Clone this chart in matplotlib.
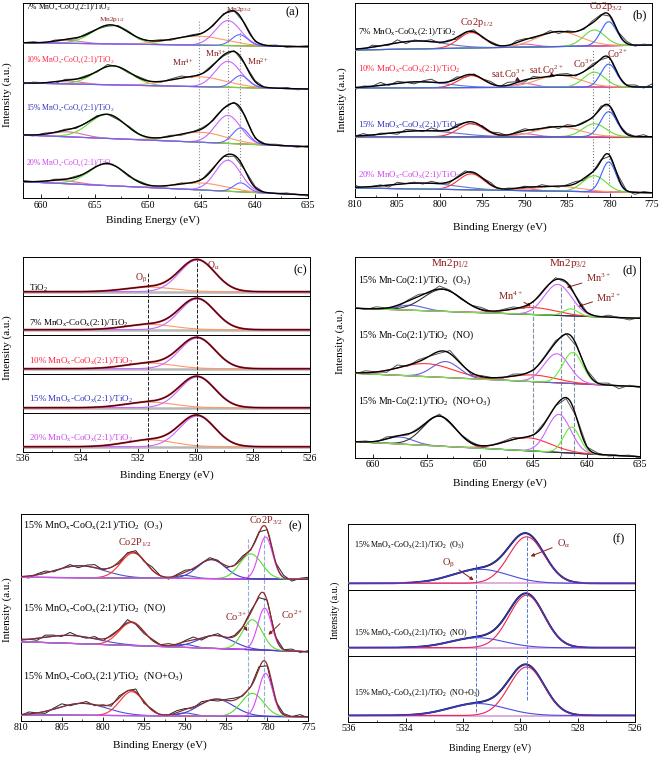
import numpy as np
import matplotlib
matplotlib.use('Agg')
import matplotlib.pyplot as plt
import matplotlib.ticker as ticker

plt.rcParams['font.family'] = ['Liberation Serif', 'DejaVu Serif']
plt.rcParams['mathtext.fontset'] = 'custom'
plt.rcParams['mathtext.rm'] = 'Liberation Serif'
plt.rcParams['mathtext.it'] = 'Liberation Serif:italic'
plt.rcParams['mathtext.default'] = 'regular'

W, H = 661, 759
LABEL_RED = '#8b1c1c'
MNCO = 'MnO$_x$-CoO$_x$(2:1)/TiO$_2$'

# ---------------- (a) Mn 2p, loading series ----------------
# components: satellite, Mn2p1/2, Mn4+, Mn3+, Mn2+   (heights in px above background)
A_XLIM = (661.7, 635)
A_LABELS = ['7% ' + MNCO, '10% ' + MNCO, '15% ' + MNCO, '20% ' + MNCO]
A_BASE = [(155.3, 151.3), (115, 109), (63, 51.3), (16.3, 3)]
A_CENTRES = [[657.5, 653.5, 645.3, 642.5, 641.4],
             [657.5, 653.3, 645.3, 642.5, 641.3],
             [657.5, 653.8, 645.0, 642.5, 641.3],
             [658.0, 653.8, 645.0, 642.5, 641.3]]
A_HEIGHTS = [[3, 19, 9, 25, 11],
             [3, 19, 10, 26, 12],
             [5, 24, 10, 28, 16],
             [3, 22, 7, 31, 9]]
A_WIDTHS = [[3.0, 4.0, 6.0, 2.8, 1.8],
            [3.0, 4.0, 6.0, 2.8, 1.8],
            [3.5, 4.0, 5.5, 2.8, 1.8],
            [3.5, 4.0, 5.5, 2.8, 1.6]]
A_NOISE = [[0, 1, -1, 1, 0, -1, 1, 0, -1, 1, 1, -1, 0, 1, -1, 0, 1, 0, -1, 1, 0, 1, -1, 0, 1, -1, 0, 1],
           [-1, 1, 0, -2, 1, 0, 1, -1, 2, 0, -1, 1, 0, -1, 1, 2, -1, 0, 1, -1, 1, 0, 1, -1, 0, 1, -1, 0],
           [0, -1, 1, 0, 1, -1, 0, 1, 0, -1, 1, 0, -1, 0, 1, -1, 0, 1, -1, 0, 1, 1, -1, 0, 1, 0, -1, 1],
           [1, 0, -1, 1, 0, 1, -1, 0, 1, 0, -1, 1, 0, -1, 0, 1, -1, 0, 1, 0, -1, 0, 1, -1, 0, 1, 0, -1]]

# ---------------- (b) Co 2p, loading series ----------------
# components: broad sat, Co2p1/2, sat Co3+, sat Co2+, Co3+, Co2+
B_XLIM = (810, 775)
B_LABELS = A_LABELS
B_BASE = [(147, 152), (109, 110), (60.3, 60.3), (9, 4.3)]
B_CENTRES = [[802.8, 796.3, 790, 786, 781.8, 780.1],
             [802.5, 796.3, 790, 786, 781.8, 780.1],
             [802.0, 796.3, 790, 786, 781.8, 780.1],
             [802.0, 796.3, 790, 786, 781.8, 780.1]]
B_HEIGHTS = [[8, 15.5, 3, 15, 16, 24],
             [6, 12, 4, 12, 15, 23],
             [6, 13, 3, 10, 13, 25],
             [6, 16, 2, 5, 16, 30]]
B_WIDTHS = [[8, 3.5, 3, 6, 3.0, 2.2],
            [8, 3.5, 3, 6, 3.0, 2.2],
            [9, 3.5, 3, 6, 3.2, 2.3],
            [9, 3.5, 3, 6, 3.2, 2.0]]
B_NOISE = [[1, -2, 2, 0, -1, 3, -2, 1, 0, 2, -1, 1, -2, 0, 2, -1, 1, 0, -2, 2, 1, -1, 0, 2, -2, 1, 0, -1, 2, 1, -1, 0, 2, -1, 1, 0],
           [-2, 1, 0, 3, -1, 2, 0, -2, 1, 3, -1, 0, 2, -2, 1, 0, 2, -1, 3, 1, -2, 2, 0, -1, 1, 2, -1, 0, 2, -1, 1, -2, 0, 2, -1, 3],
           [0, 2, -1, 1, 0, -2, 2, 1, -1, 3, 0, -1, 2, 0, -2, 1, 0, 2, -1, 1, 2, -1, 0, 1, -2, 2, 0, 1, -1, 2, 0, -2, 1, 0, 2, -1],
           [2, -1, 0, 1, -2, 2, 0, 1, -1, 2, 0, -2, 1, 2, -1, 0, 2, -2, 1, 0, 1, -1, 2, 0, -1, 1, 2, -2, 0, 1, -1, 2, 0, -2, 1, 0]]

# ---------------- (c) O 1s, loading series ----------------
C_XLIM = (536, 526)
C_LABELS = ['TiO$_2$'] + A_LABELS
C_BASE = [4, 5, 5, 5, 5]
C_ALPHA_CENTRE = [529.93, 529.93, 529.93, 529.93, 529.93]
C_ALPHA_HEIGHT = [31.7, 30.7, 30.6, 30.7, 30.7]
C_BETA_CENTRE = [531.6, 531.6, 531.6, 531.6, 531.6]
C_BETA_HEIGHT = [4.6, 5.3, 5.6, 5.6, 6.8]
C_ALPHA_FWHM = 1.45
C_BETA_FWHM = 2.0

# ---------------- (d) Mn 2p, gas treatment ----------------
D_XLIM = (661.7, 635)
D_LABELS = ['15% Mn-Co(2:1)/TiO$_2$  (O$_3$)', '15% Mn-Co(2:1)/TiO$_2$  (NO)',
            '15% Mn-Co(2:1)/TiO$_2$  (NO+O$_3$)']
D_BASE = [(149.4, 139.4), (84.4, 71), (16, 1)]
D_CENTRES = [[656.5, 653.5, 645.0, 642.7, 641.5],
             [655.0, 653.2, 645.0, 642.8, 641.3],
             [657.5, 653.8, 645.5, 642.6, 641.4]]
D_HEIGHTS = [[5, 22, 7, 31, 7],
             [13, 16, 6.7, 29, 31],
             [7, 30, 13, 38, 26]]
D_WIDTHS = [[3, 4.2, 5, 3.0, 1.6],
            [6, 3.0, 5, 2.8, 2.2],
            [3, 3.6, 5, 2.6, 1.8]]
D_NOISE = [[1, -1, 2, 0, -2, 1, 2, -1, 3, 1, -1, 0, 2, -1, 1, 2, -2, 0, 1, 2, -1, 1, 0, -1, 2, 0, -2, 1],
           [-1, 2, 0, -2, 3, -1, 2, 0, -2, 3, 1, -2, 1, 0, -1, 2, 0, -1, 1, 2, 0, -1, 1, 0, 2, -3, 1, -1],
           [0, 1, -1, 2, 0, -1, 1, 0, 2, -1, 0, 1, -1, 0, 1, 2, -1, 0, 1, 0, -1, 1, 0, 1, -1, 0, 1, -1]]

# ---------------- (e) Co 2p, gas treatment ----------------
E_XLIM = (810, 775)
E_LABELS = ['15% ' + MNCO + '  (O$_3$)', '15% ' + MNCO + '  (NO)', '15% ' + MNCO + '  (NO+O$_3$)']
E_BASE = [(143.4, 141.4), (79, 69), (5.7, 4)]
E_CENTRES = [[802.8, 796.3, 790, 786.8, 782.0, 780.2],
             [804.0, 796.5, 790, 786.3, 781.8, 780.3],
             [802.5, 796.5, 790, 786.2, 781.8, 780.2]]
E_HEIGHTS = [[12, 25, 3, 19, 25, 42],
             [8, 23, 3, 13, 30, 42],
             [12, 24, 3, 17, 23, 43]]
E_WIDTHS = [[7, 3.6, 2.5, 4, 3.2, 2.0],
            [8, 3.6, 2.5, 5, 2.8, 2.0],
            [7, 3.4, 2.5, 5, 3.2, 2.0]]
E_NOISE = [[0, -2, 1, 2, -1, 0, 2, -2, 1, 3, -1, 0, -2, 1, 2, -1, 3, 0, -2, 1, 2, -1, 0, 2, 1, -2, 0, 2, -1, 1, 0, -1, 2, -2, 1, 2],
           [1, 0, -2, 2, 1, -1, 3, 0, -1, 2, -2, 1, 0, 3, -1, -2, 1, 0, 2, -1, 1, 3, -2, 0, 2, -1, 1, 0, 2, -2, 1, -1, 0, 2, -1, 1],
           [-1, 2, 0, -2, 1, 3, -1, 0, 2, -1, 1, -2, 2, 0, 3, -2, 1, -1, 0, 2, 1, -1, 2, 0, -2, 1, 2, -1, 0, 2, -1, -3, 1, 0, 2, -1]]

# ---------------- (f) O 1s, gas treatment ----------------
F_XLIM = (536, 526)
F_LABELS = E_LABELS
F_BASE = [6.6, 8.1, 6.2]
F_ALPHA_CENTRE = [529.78, 529.78, 529.78]
F_ALPHA_HEIGHT = [46.5, 52.5, 48.5]
F_BETA_CENTRE = [531.4, 531.5, 531.5]
F_BETA_HEIGHT = [14, 10, 12]
F_ALPHA_FWHM = 1.45
F_BETA_FWHM = [2.3, 2.2, 2.3]


def peak(x, centre, height, fwhm):
    sigma = fwhm / 2.3548
    return height * np.exp(-0.5 * ((x - centre) / sigma) ** 2)


def line_bg(x, xlim, base):
    return base[0] + (base[1] - base[0]) * (x - xlim[0]) / (xlim[1] - xlim[0])


def draw_fit(ax, xlim, base, centres, heights, widths, colors, noise=None,
             raw_color='#444444', bg_color='#a04040', env_color='black',
             comp_lw=0.8, env_lw=1.0, bg_lw=0.8):
    x = np.linspace(xlim[0], xlim[1], 800)
    bg = line_bg(x, xlim, base)
    comps = [peak(x, c, h, w) for c, h, w in zip(centres, heights, widths)]
    if noise is not None:
        xr = np.linspace(xlim[0], xlim[1], len(noise))
        yr = line_bg(xr, xlim, base) + np.asarray(noise, dtype=float)
        for c, h, w in zip(centres, heights, widths):
            yr = yr + peak(xr, c, h, w)
        ax.plot(xr, yr, color=raw_color, lw=0.7, zorder=2)
    ax.plot(x, bg, color=bg_color, lw=bg_lw, zorder=3)
    for comp, col in zip(comps, colors):
        ax.plot(x, bg + comp, color=col, lw=comp_lw, zorder=3)
    ax.plot(x, bg + np.sum(comps, axis=0), color=env_color, lw=env_lw, zorder=4)


def px_axes(fig, x0, y0, x1, y1):
    return fig.add_axes([x0 / W, 1 - y1 / H, (x1 - x0) / W, (y1 - y0) / H])


def setup(ax, xlim, ylim, major, minor, show_x=True):
    ax.set_xlim(*xlim)
    ax.set_ylim(*ylim)
    ax.set_yticks([])
    ax.xaxis.set_major_locator(ticker.MultipleLocator(major))
    ax.xaxis.set_minor_locator(ticker.MultipleLocator(minor))
    ax.tick_params(axis='x', which='major', direction='in', labelsize=7,
                   length=3, width=0.6, pad=2)
    ax.tick_params(axis='x', which='minor', direction='in', length=1.5, width=0.5)
    if not show_x:
        ax.tick_params(axis='x', which='both', bottom=False, labelbottom=False)
    for s in ax.spines.values():
        s.set_linewidth(0.7)


def fig_text(fig, px, py, s, **kw):
    fig.text(px / W, 1 - py / H, s, **kw)


fig = plt.figure(figsize=(W / 100, H / 100), dpi=100)

# ---------- (a) ----------
ax = px_axes(fig, 23, 3, 308, 198)
setup(ax, A_XLIM, (0, 195), 5, 2.5)
a_colors = ['#e07090', '#66dd33', '#ff9966', '#cc66ff', '#6666ff']
for i in range(4):
    draw_fit(ax, A_XLIM, A_BASE[i], A_CENTRES[i], A_HEIGHTS[i], A_WIDTHS[i],
             a_colors, A_NOISE[i], bg_color='#a04050')
for xv, y0, y1 in [(645.2, 2, 178), (642.5, 38, 190), (641.4, 17, 166)]:
    ax.vlines(xv, y0, y1, colors='#888888', linestyles=':', lw=0.8, zorder=1)
a_lab_y = [191.3, 138, 89.7, 34.7]
a_lab_c = ['black', '#ff2040', '#3030c0', '#cc44ee']
for i in range(4):
    ax.text(661.4, a_lab_y[i], A_LABELS[i], color=a_lab_c[i], fontsize=5.5,
            ha='left', va='center')
ax.text(653.4, 179, 'Mn2p$_{1/2}$', color=LABEL_RED, fontsize=5.3, ha='center', va='center')
ax.text(641.5, 189, 'Mn2p$_{3/2}$', color=LABEL_RED, fontsize=5.3, ha='center', va='center')
ax.text(646.7, 135.3, 'Mn$^{4+}$', color=LABEL_RED, fontsize=6.5, ha='center', va='center')
ax.text(643.6, 144.7, 'Mn$^{3+}$', color=LABEL_RED, fontsize=6.5, ha='center', va='center')
ax.text(639.7, 136.3, 'Mn$^{2+}$', color=LABEL_RED, fontsize=6.5, ha='center', va='center')
ax.text(636.5, 185.3, '(a)', fontsize=9, ha='center', va='center')
fig_text(fig, 153, 220, 'Binding Energy (eV)', fontsize=8, ha='center', va='center')
fig_text(fig, 7, 95, 'Intensity (a.u.)', fontsize=8, ha='center', va='center', rotation=90)

# ---------- (b) ----------
ax = px_axes(fig, 355, 3, 652, 197)
setup(ax, B_XLIM, (0, 194), 5, 2.5)
b_colors = ['#7070d0', '#ff3333', '#cc66cc', '#ff9966', '#66dd33', '#3366ff']
for i in range(4):
    draw_fit(ax, B_XLIM, B_BASE[i], B_CENTRES[i], B_HEIGHTS[i], B_WIDTHS[i],
             b_colors, B_NOISE[i], bg_color='#a04040')
for xv, y0, y1 in [(782.0, 10, 147), (780.1, 14, 140)]:
    ax.vlines(xv, y0, y1, colors='#777777', linestyles=':', lw=0.8, zorder=1)
b_lab_y = [164.5, 128, 72, 22]
for i in range(4):
    ax.text(809.6, b_lab_y[i], B_LABELS[i], color=a_lab_c[i], fontsize=6.4,
            ha='left', va='center')
ax.text(795.7, 174.3, 'Co2p$_{1/2}$', color=LABEL_RED, fontsize=7.5, ha='center', va='center')
ax.text(780.4, 190.3, 'Co2p$_{3/2}$', color=LABEL_RED, fontsize=7.5, ha='center', va='center')
ax.text(791.9, 123, 'sat.Co$^{3+}$', color=LABEL_RED, fontsize=7, ha='center', va='center')
ax.text(787.4, 127, 'sat.Co$^{2+}$', color=LABEL_RED, fontsize=7, ha='center', va='center')
ax.text(783.1, 133.7, 'Co$^{3+}$', color=LABEL_RED, fontsize=7, ha='center', va='center')
ax.text(779.0, 143, 'Co$^{2+}$', color=LABEL_RED, fontsize=7, ha='center', va='center')
for x0, y0, x1, y1 in [(791.0, 118, 790.2, 114.3), (786.9, 122, 786.1, 119.7)]:
    ax.annotate('', xy=(x1, y1), xytext=(x0, y0),
                arrowprops=dict(arrowstyle='-|>', color='#5a1030', lw=0.8,
                                mutation_scale=6))
ax.text(776.4, 182, '(b)', fontsize=9, ha='center', va='center')
fig_text(fig, 500, 226.7, 'Binding Energy (eV)', fontsize=8, ha='center', va='center')
fig_text(fig, 341.7, 100, 'Intensity (a.u.)', fontsize=8, ha='center', va='center', rotation=90)

# ---------- (c) ----------
c_top, c_h = 256.7, 39.0
c_lab_c = ['black'] + a_lab_c
for i in range(5):
    ax = px_axes(fig, 23, c_top + c_h * i, 310, c_top + c_h * (i + 1))
    setup(ax, C_XLIM, (0, c_h), 2, 1, show_x=(i == 4))
    base = (C_BASE[i], C_BASE[i])
    ax.axhline(C_BASE[i], color='#b8b8b8', lw=1.8, zorder=2)
    draw_fit(ax, C_XLIM, base, [C_BETA_CENTRE[i], C_ALPHA_CENTRE[i]],
             [C_BETA_HEIGHT[i], C_ALPHA_HEIGHT[i]], [C_BETA_FWHM, C_ALPHA_FWHM],
             ['#ff9966', '#cc66ff'], None, bg_color='#b8b8b8', env_color='#cc2233',
             env_lw=1.4, bg_lw=0)
    draw_fit(ax, C_XLIM, base, [C_BETA_CENTRE[i], C_ALPHA_CENTRE[i]],
             [C_BETA_HEIGHT[i], C_ALPHA_HEIGHT[i]], [C_BETA_FWHM, C_ALPHA_FWHM],
             [], None, bg_color='#b8b8b8', env_color='#2a0a10', env_lw=0.7, bg_lw=0)
    lab_y = [7.4, 11.4, 12.7, 13.4, 14][i]
    ax.text(535.8, lab_y, C_LABELS[i], color=c_lab_c[i], fontsize=6.5,
            ha='left', va='center')
    if i == 0:
        ax.text(531.9, 17.4, 'O$_β$', color=LABEL_RED, fontsize=7, ha='center', va='center')
        ax.text(529.37, 30, 'O$_α$', color=LABEL_RED, fontsize=7, ha='center', va='center')
        ax.text(526.35, 25.7, '(c)', fontsize=9, ha='center', va='center')
ov = px_axes(fig, 23, c_top, 310, c_top + 5 * c_h)
ov.set_xlim(*C_XLIM)
ov.set_ylim(0, 5 * c_h)
ov.axis('off')
ov.vlines(C_BETA_CENTRE[0] + 0.05, 0, 5 * c_h - 15, colors='#222222', linestyles='--', lw=0.7)
ov.vlines(C_ALPHA_CENTRE[0], 0, 5 * c_h - 3, colors='#222222', linestyles='--', lw=0.7)
fig_text(fig, 166.7, 475, 'Binding Energy (eV)', fontsize=8, ha='center', va='center')
fig_text(fig, 7, 348, 'Intensity (a.u.)', fontsize=8, ha='center', va='center', rotation=90)

# ---------- (d) ----------
ax = px_axes(fig, 355, 257, 640, 457.7)
setup(ax, D_XLIM, (0, 200.7), 5, 2.5)
d_colors = [['#6060e0', '#333333', '#ff3333', '#cc66ff', '#66ee33'],
            ['#ff3333', '#6060e0', '#ff3333', '#cc66ff', '#66ee33'],
            ['#6060e0', '#333333', '#ff3333', '#cc66ff', '#66ee33']]
for i in range(3):
    draw_fit(ax, D_XLIM, D_BASE[i], D_CENTRES[i], D_HEIGHTS[i], D_WIDTHS[i],
             d_colors[i], D_NOISE[i], raw_color='#555555', bg_color='#555555')
for xv, y1 in [(645.0, 157), (642.4, 171), (641.2, 156)]:
    ax.vlines(xv, 2, y1, colors='#7f8fa6', linestyles='--', lw=0.8, zorder=1)
d_lab_y = [177.7, 122.7, 56]
for i in range(3):
    ax.text(661.4, d_lab_y[i], D_LABELS[i], fontsize=7, ha='left', va='center')
ax.text(652.8, 194.4, 'Mn2p$_{1/2}$', color=LABEL_RED, fontsize=8, ha='center', va='center')
ax.text(641.7, 194.4, 'Mn2p$_{3/2}$', color=LABEL_RED, fontsize=8, ha='center', va='center')
ax.text(647.1, 162, 'Mn$^{4+}$', color=LABEL_RED, fontsize=7.5, ha='center', va='center')
ax.text(638.9, 180, 'Mn$^{3+}$', color=LABEL_RED, fontsize=7.5, ha='center', va='center')
ax.text(638.0, 159.4, 'Mn$^{2+}$', color=LABEL_RED, fontsize=7.5, ha='center', va='center')
for x0, y0, x1, y1 in [(646.1, 157, 645.0, 149.7), (640.2, 175.4, 642.1, 169.4),
                       (639.2, 156.7, 641.0, 150.4)]:
    ax.annotate('', xy=(x1, y1), xytext=(x0, y0),
                arrowprops=dict(arrowstyle='-|>', color=LABEL_RED, lw=0.7,
                                mutation_scale=5))
ax.text(636.0, 187.7, '(d)', fontsize=9, ha='center', va='center')
fig_text(fig, 500, 483, 'Binding Energy (eV)', fontsize=8, ha='center', va='center')
fig_text(fig, 340, 341.7, 'Intensity (a.u.)', fontsize=8, ha='center', va='center', rotation=90)

# ---------- (e) ----------
ax = px_axes(fig, 20.7, 514, 308.3, 720.7)
setup(ax, E_XLIM, (0, 206.7), 5, 2.5)
e_colors = ['#5050d0', '#ff3030', '#5050d0', '#4040cc', '#55dd33', '#dd44ff']
for i in range(3):
    draw_fit(ax, E_XLIM, E_BASE[i], E_CENTRES[i], E_HEIGHTS[i], E_WIDTHS[i],
             e_colors, E_NOISE[i], raw_color='#222222', bg_color='#9040c0',
             env_color='#8b2a2a', env_lw=0.9)
for xv, y1 in [(782.3, 182), (780.4, 186)]:
    ax.vlines(xv, 2, y1, colors='#99aadd', linestyles='--', lw=0.8, zorder=1)
e_lab_y = [195.7, 112.4, 44]
for i in range(3):
    ax.text(809.7, e_lab_y[i], E_LABELS[i], fontsize=7.3, ha='left', va='center')
ax.text(796.1, 178, 'Co2P$_{1/2}$', color=LABEL_RED, fontsize=7.5, ha='center', va='center')
ax.text(780.1, 200, 'Co2P$_{3/2}$', color=LABEL_RED, fontsize=7.5, ha='center', va='center')
ax.text(783.8, 104, 'Co$^{3+}$', color=LABEL_RED, fontsize=7.5, ha='center', va='center')
ax.text(776.9, 105.7, 'Co$^{2+}$', color=LABEL_RED, fontsize=7.5, ha='center', va='center')
for x0, y0, x1, y1 in [(783.1, 97.4, 782.2, 87.4), (778.2, 99, 780.1, 84)]:
    ax.annotate('', xy=(x1, y1), xytext=(x0, y0),
                arrowprops=dict(arrowstyle='-|>', color=LABEL_RED, lw=0.7,
                                mutation_scale=5))
ax.text(776.6, 194.7, '(e)', fontsize=9, ha='center', va='center')
fig_text(fig, 160, 745, 'Binding Energy (eV)', fontsize=8, ha='center', va='center')
fig_text(fig, 7, 610, 'Intensity (a.u.)', fontsize=8, ha='center', va='center', rotation=90)

# ---------- (f) ----------
f_top, f_h = 524.0, 65.9
for i in range(3):
    ax = px_axes(fig, 348.3, f_top + f_h * i, 635, f_top + f_h * (i + 1))
    setup(ax, F_XLIM, (0, f_h), 2, 1, show_x=(i == 2))
    base = (F_BASE[i], F_BASE[i])
    x = np.linspace(F_XLIM[0], F_XLIM[1], 600)
    env = F_BASE[i] + peak(x, F_ALPHA_CENTRE[i], F_ALPHA_HEIGHT[i], F_ALPHA_FWHM) \
        + peak(x, F_BETA_CENTRE[i], F_BETA_HEIGHT[i], F_BETA_FWHM[i])
    ax.plot(x, env, color='#111111', lw=1.4, zorder=2)
    draw_fit(ax, F_XLIM, base, [F_BETA_CENTRE[i], F_ALPHA_CENTRE[i]],
             [F_BETA_HEIGHT[i], F_ALPHA_HEIGHT[i]], [F_BETA_FWHM[i], F_ALPHA_FWHM],
             ['#4b4be0', '#ee2255'], None, bg_color='#d8a0d8', env_color='#3535d0',
             env_lw=0.8, bg_lw=1.2)
    lab_y = [44.9, 22.5, 28.4][i]
    ax.text(535.8, lab_y, F_LABELS[i], fontsize=5.8, ha='left', va='center')
    if i == 0:
        ax.text(532.5, 26.6, 'O$_β$', color=LABEL_RED, fontsize=7.5, ha='center', va='center')
        ax.text(528.5, 46.6, 'O$_α$', color=LABEL_RED, fontsize=7.5, ha='center', va='center')
        ax.text(526.56, 50.6, '(f)', fontsize=9, ha='center', va='center')
        for x0, y0, x1, y1 in [(532.22, 21.6, 531.55, 8.2), (528.8, 43.2, 529.73, 32.6)]:
            ax.annotate('', xy=(x1, y1), xytext=(x0, y0),
                        arrowprops=dict(arrowstyle='-|>', color=LABEL_RED, lw=0.7,
                                        mutation_scale=5))
ov = px_axes(fig, 348.3, f_top, 635, f_top + 3 * f_h)
ov.set_xlim(*F_XLIM)
ov.set_ylim(0, 3 * f_h)
ov.axis('off')
ov.vlines(531.53, 3 * f_h - 188, 3 * f_h - 39, colors='#5577dd', linestyles='--', lw=0.7)
ov.vlines(F_ALPHA_CENTRE[0], 3 * f_h - 176, 3 * f_h - 11, colors='#5577dd', linestyles='--', lw=0.7)
fig_text(fig, 490, 748, 'Binding Energy (eV)', fontsize=7, ha='center', va='center')
fig_text(fig, 335, 610, 'Intensity (a.u.)', fontsize=7, ha='center', va='center', rotation=90)

fig.savefig('out.png', dpi=100)
